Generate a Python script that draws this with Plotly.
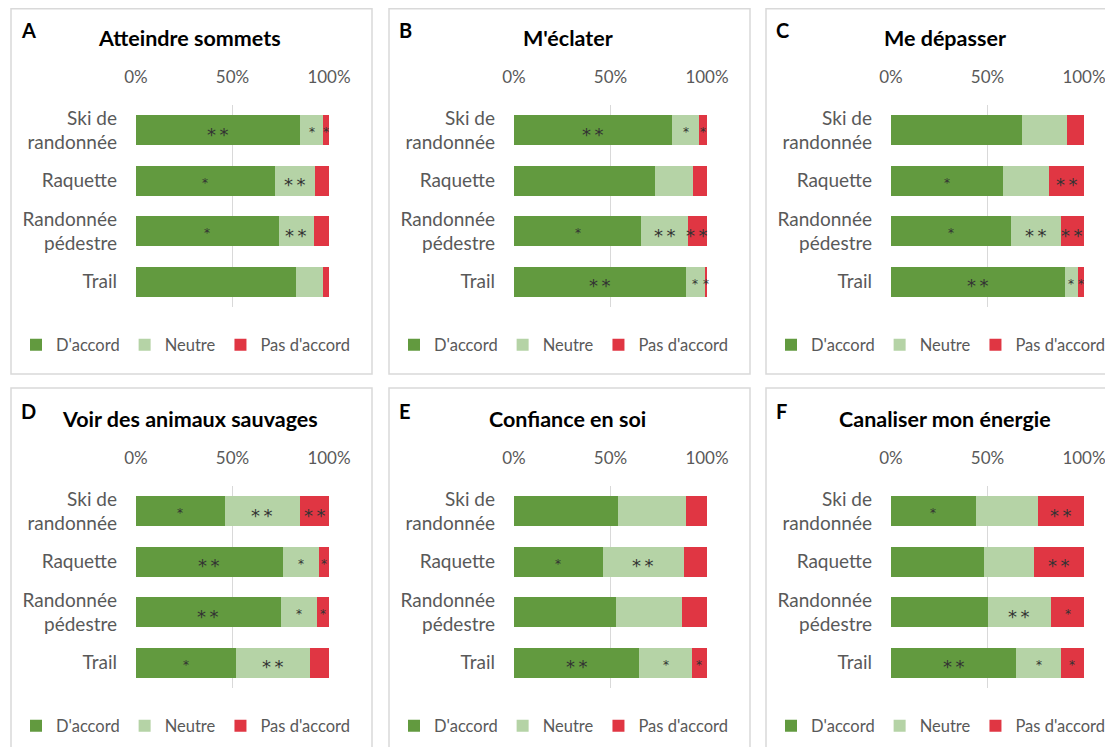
import plotly.graph_objects as go

W, H = 1113, 747

panel_letters = ["A", "B", "C", "D", "E", "F"]
titles = ["Atteindre sommets", "M'éclater", "Me dépasser",
          "Voir des animaux sauvages", "Confiance en soi", "Canaliser mon énergie"]
activities = ["Ski de<br>randonnée", "Raquette", "Randonnée<br>pédestre", "Trail"]
series_names = ["D'accord", "Neutre", "Pas d'accord"]
tick_vals = [0, 50, 100]
tick_text = ["0%", "50%", "100%"]

# percentages per panel (order: Ski de randonnée, Raquette, Randonnée pédestre, Trail)
agree_A = [85, 72, 74, 83]
neutral_A = [12, 21, 18, 14]
disagree_A = [3, 7, 8, 3]
agree_B = [82, 73, 66, 89]
neutral_B = [14, 20, 24, 10]
disagree_B = [4, 7, 10, 1]
agree_C = [68, 58, 62, 90]
neutral_C = [23, 24, 26, 7]
disagree_C = [9, 18, 12, 3]
agree_D = [46, 76, 75, 52]
neutral_D = [39, 19, 19, 38]
disagree_D = [15, 5, 6, 10]
agree_E = [54, 46, 53, 65]
neutral_E = [35, 42, 34, 27]
disagree_E = [11, 12, 13, 8]
agree_F = [44, 48, 50, 65]
neutral_F = [32, 26, 33, 23]
disagree_F = [24, 26, 17, 12]

# significance stars per segment
stars_agree_A = ["**", "*", "*", ""]
stars_neutral_A = ["*", "**", "**", ""]
stars_disagree_A = ["*", "", "", ""]
stars_agree_B = ["**", "", "*", "**"]
stars_neutral_B = ["*", "", "**", "*"]
stars_disagree_B = ["*", "", "**", "*"]
stars_agree_C = ["", "*", "*", "**"]
stars_neutral_C = ["", "", "**", "*"]
stars_disagree_C = ["", "**", "**", "*"]
stars_agree_D = ["*", "**", "**", "*"]
stars_neutral_D = ["**", "*", "*", "**"]
stars_disagree_D = ["**", "*", "*", ""]
stars_agree_E = ["", "*", "", "**"]
stars_neutral_E = ["", "**", "", "*"]
stars_disagree_E = ["", "", "", "*"]
stars_agree_F = ["*", "", "", "**"]
stars_neutral_F = ["", "", "**", "*"]
stars_disagree_F = ["**", "**", "*", "*"]

data = [
    (agree_A, neutral_A, disagree_A, stars_agree_A, stars_neutral_A, stars_disagree_A),
    (agree_B, neutral_B, disagree_B, stars_agree_B, stars_neutral_B, stars_disagree_B),
    (agree_C, neutral_C, disagree_C, stars_agree_C, stars_neutral_C, stars_disagree_C),
    (agree_D, neutral_D, disagree_D, stars_agree_D, stars_neutral_D, stars_disagree_D),
    (agree_E, neutral_E, disagree_E, stars_agree_E, stars_neutral_E, stars_disagree_E),
    (agree_F, neutral_F, disagree_F, stars_agree_F, stars_neutral_F, stars_disagree_F),
]

colors = ["#629a3f", "#b5d3a6", "#e03643"]
FONT = "Lato"
TXT = "#595959"
STAR = "#333333"

OFF = 8  # page offset of the figure
panel_left = [11, 389, 766]   # screen px
panel_top = [7, 388]
PW, PH = 361, 367
PLOT_DX, PLOT_W = 125, 193
PLOT_DY, PLOT_H = 98, 202


def fx(px):
    return (px - OFF) / W


def fy(py):
    return 1 - (py - OFF) / H


fig = go.Figure()
shapes = []
annotations = []
layout_extra = {}

for i in range(6):
    r, c = divmod(i, 3)
    L, T = panel_left[c], panel_top[r]
    k = "" if i == 0 else str(i + 1)
    xa, ya = "x" + k, "y" + k
    leg = "legend" + k
    agree, neutral, disagree, sa, sn, sd = data[i]

    for name, vals, col in zip(series_names, [agree, neutral, disagree], colors):
        fig.add_trace(go.Bar(
            x=vals, y=activities, orientation="h", name=name,
            marker=dict(color=col, line=dict(width=0)),
            xaxis=xa, yaxis=ya, legend=leg, hoverinfo="skip",
        ))

    # star annotations at segment centres
    for j, act in enumerate(activities):
        starts = [0, agree[j], agree[j] + neutral[j]]
        widths = [agree[j], neutral[j], disagree[j]]
        for s, w, st in zip(starts, widths, [sa[j], sn[j], sd[j]]):
            if not st:
                continue
            big = len(st) == 2
            annotations.append(dict(
                x=s + w / 2, y=act, xref=xa, yref=ya,
                text="*\u2009*" if big else "*", showarrow=False,
                font=dict(family="DejaVu Sans", size=18 if big else 12, color=STAR),
                yshift=-4 if big else -2,
            ))

    layout_extra["xaxis" + k] = dict(
        domain=[fx(L + PLOT_DX), fx(L + PLOT_DX + PLOT_W)], anchor=ya, side="top",
        range=[0, 100], tickvals=tick_vals, ticktext=tick_text, showgrid=True,
        gridcolor="#d9d9d9", gridwidth=1, zeroline=False, showline=False,
        ticks="", ticklabelstandoff=18, automargin=False,
        tickfont=dict(family=FONT, size=17, color=TXT), fixedrange=True,
    )
    layout_extra["yaxis" + k] = dict(
        domain=[fy(T + PLOT_DY + PLOT_H), fy(T + PLOT_DY)], anchor=xa,
        categoryorder="array", categoryarray=activities, autorange="reversed",
        showgrid=False, zeroline=False, showline=False, ticks="",
        ticklabelstandoff=18, automargin=False,
        tickfont=dict(family=FONT, size=19, color=TXT), fixedrange=True,
    )
    layout_extra[leg] = dict(
        orientation="h", x=fx(L + 5), y=fy(T + 338),
        xanchor="left", yanchor="middle", bgcolor="rgba(0,0,0,0)",
        font=dict(family=FONT, size=16.5, color=TXT), itemclick=False,
        traceorder="normal",
    )

    # panel border
    top_px = max(T - OFF, 0.75)
    shapes.append(dict(type="rect", xref="paper", yref="paper",
                       x0=fx(L), x1=fx(L + PW), y0=fy(T + PH), y1=1 - top_px / H,
                       line=dict(color="#d9d9d9", width=1.5), fillcolor="rgba(0,0,0,0)",
                       layer="below"))
    # panel letter
    annotations.append(dict(x=fx(L + 8), y=fy(T + 23), xref="paper", yref="paper",
                            text="<b>" + panel_letters[i] + "</b>", showarrow=False,
                            xanchor="left", yanchor="middle",
                            font=dict(family=FONT, size=20, color="#000000")))
    # title
    annotations.append(dict(x=fx(L + PW / 2 - 2), y=fy(T + 31), xref="paper", yref="paper",
                            text="<b>" + titles[i] + "</b>", showarrow=False,
                            xanchor="center", yanchor="middle",
                            font=dict(family=FONT, size=21.5, color="#000000")))

fig.update_layout(
    width=W, height=H, margin=dict(l=0, r=0, t=0, b=0, autoexpand=False),
    paper_bgcolor="white", plot_bgcolor="white",
    barmode="stack", bargap=0.41,
    shapes=shapes, annotations=annotations,
    font=dict(family=FONT, color=TXT),
    **layout_extra,
)

fig.write_html("out.html")
